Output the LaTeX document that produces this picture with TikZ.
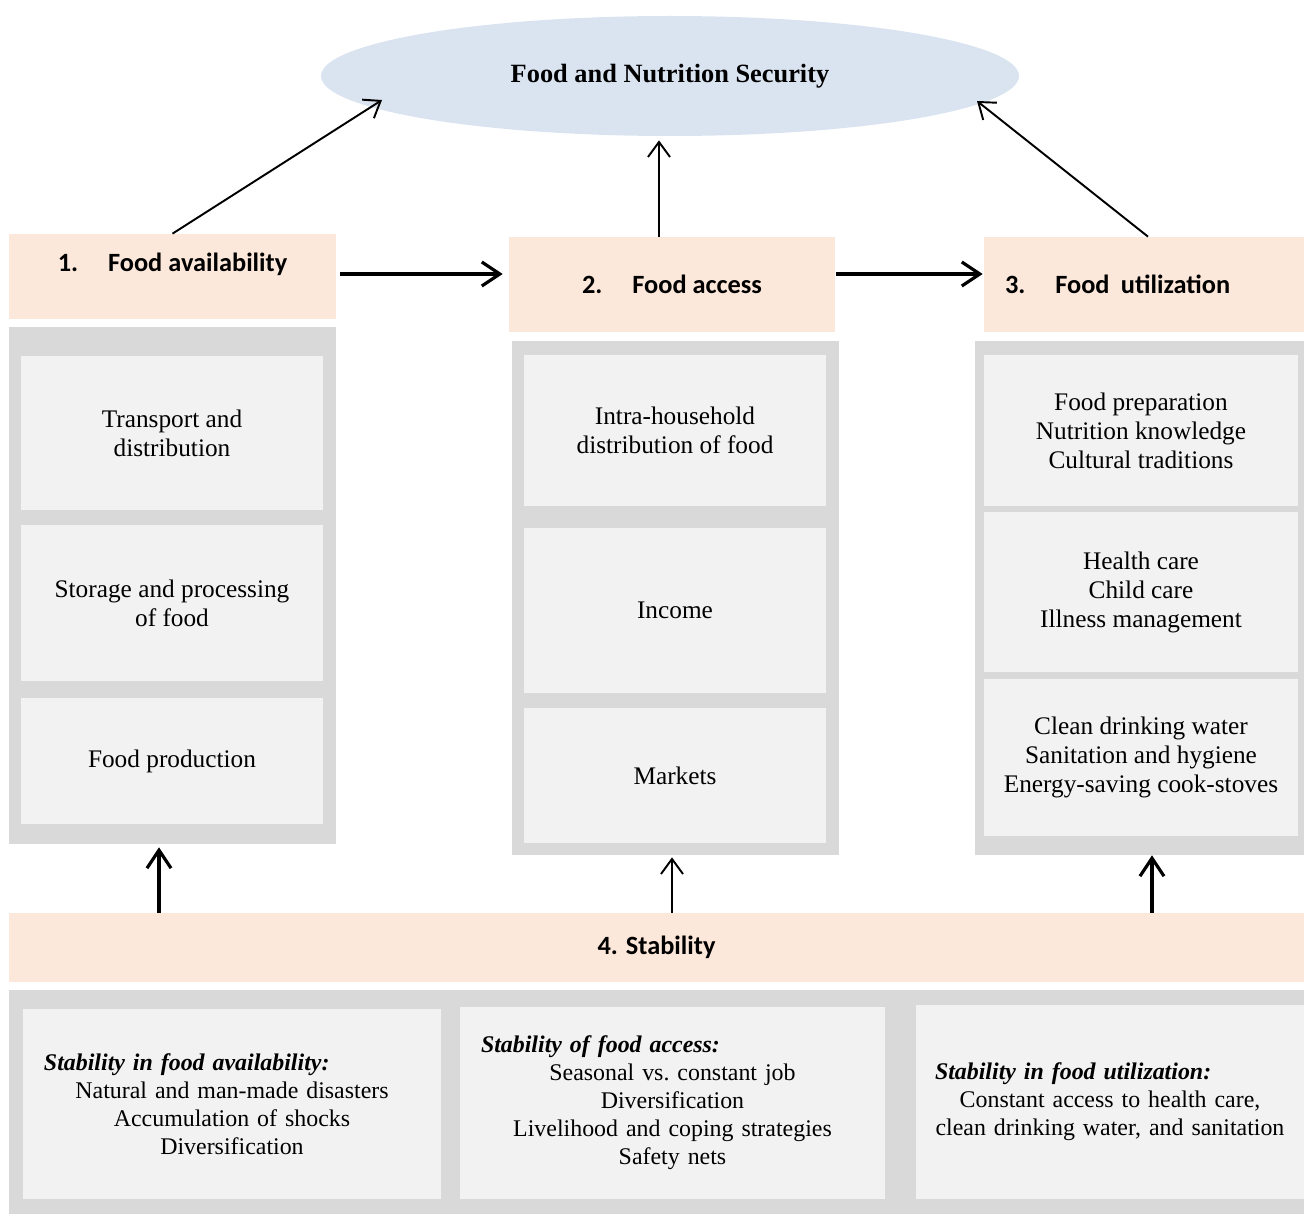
\documentclass[tikz,border=0pt]{standalone}
\usepackage{fontspec}
\setmainfont{Liberation Serif}
\newfontfamily\headfont{Carlito}
\usetikzlibrary{arrows.meta,shapes.geometric}

\definecolor{peach}{HTML}{FCE8DA}
\definecolor{panelgray}{HTML}{D9D9D9}
\definecolor{cellgray}{HTML}{F2F2F2}
\definecolor{fnsblue}{HTML}{DAE3F0}

\tikzset{
    panel/.style={fill=panelgray, inner sep=0pt},
    cell/.style={fill=cellgray, inner sep=0pt, align=center, font=\fontsize{14.4}{16.5}\selectfont},
    stabcell/.style={fill=cellgray, inner sep=0pt, align=center, font=\fontsize{13.6}{15.9}\selectfont},
    head/.style={fill=peach, inner sep=0pt, font=\headfont\bfseries\fontsize{15}{18}\selectfont},
    arrthin/.style={line width=1.1pt, -{Straight Barb[length=3mm,width=4.4mm]}},
    arrthick/.style={line width=1.8pt, -{Straight Barb[length=3.6mm,width=4.8mm]}}
}

\begin{document}
\begin{tikzpicture}
            \useasboundingbox (0,0) rectangle (26.08,-24.28);

            \node[ellipse, fill=fnsblue, inner sep=0pt, minimum width=13.96cm, minimum height=2.40cm,
                  font=\bfseries\fontsize{15}{18}\selectfont] (fns) at (13.40,-1.52) {Food and Nutrition Security};

            \node[head, minimum width=6.54cm, minimum height=1.70cm,
                  label={[head, fill=none, yshift=0.25cm]center:1.\hspace{17pt}Food availability}] (h1) at (3.45,-5.53) {};
            \node[head, minimum width=6.52cm, minimum height=1.90cm] (h2) at (13.44,-5.69) {2.\hspace{17pt}Food access};
            \node[head, minimum width=6.40cm, minimum height=1.90cm, text width=5.56cm, align=left] (h3) at (22.88,-5.69) {3.\hspace{17pt}Food\ \hspace{1.5pt}utilization};

            \node[panel, minimum width=6.54cm, minimum height=10.34cm] (p1) at (3.45,-11.71) {};
            \node[panel, minimum width=6.54cm, minimum height=10.28cm] (p2) at (13.51,-11.96) {};
            \node[panel, minimum width=6.58cm, minimum height=10.28cm] (p3) at (22.79,-11.96) {};

            \node[cell, minimum width=6.04cm, minimum height=3.08cm] (a1) at (3.44,-8.66) {Transport and\\distribution};
            \node[cell, minimum width=6.04cm, minimum height=3.12cm] (a2) at (3.44,-12.06) {Storage and processing\\of food};
            \node[cell, minimum width=6.04cm, minimum height=2.52cm] (a3) at (3.44,-15.22) {Food production};

            \node[cell, minimum width=6.04cm, minimum height=3.02cm] (b1) at (13.50,-8.61) {Intra-household\\distribution of food};
            \node[cell, minimum width=6.04cm, minimum height=3.30cm] (b2) at (13.50,-12.21) {Income};
            \node[cell, minimum width=6.04cm, minimum height=2.70cm] (b3) at (13.50,-15.51) {Markets};

            \node[cell, minimum width=6.28cm, minimum height=3.02cm] (c1) at (22.82,-8.61) {Food preparation\\Nutrition knowledge\\Cultural traditions};
            \node[cell, minimum width=6.28cm, minimum height=3.20cm] (c2) at (22.82,-11.84) {Health care\\Child care\\Illness management};
            \node[cell, minimum width=6.28cm, minimum height=3.14cm] (c3) at (22.82,-15.15) {Clean drinking water\\Sanitation and hygiene\\Energy-saving cook-stoves};

            \node[head, minimum width=25.90cm, minimum height=1.38cm] (stab) at (13.13,-18.95) {4. Stability};
            \node[panel, minimum width=25.90cm, minimum height=4.48cm] (pstab) at (13.13,-22.04) {};

            \node[stabcell, minimum width=8.36cm, minimum height=3.80cm, text width=7.52cm] (s1) at (4.64,-22.08)
                {\makebox[\linewidth][l]{\textbf{\textit{Stability in food availability:}}}\\Natural and man-made disasters\\Accumulation of shocks\\Diversification};
            \node[stabcell, minimum width=8.50cm, minimum height=3.84cm, text width=7.66cm] (s2) at (13.45,-22.06)
                {\makebox[\linewidth][l]{\textbf{\textit{Stability of food access:}}}\\Seasonal vs.\ constant job\\Diversification\\Livelihood and coping strategies\\Safety nets};
            \node[stabcell, minimum width=7.76cm, minimum height=3.88cm, text width=7.00cm] (s3) at (22.20,-22.04)
                {\makebox[\linewidth][l]{\textbf{\textit{Stability in food utilization:}}}\\Constant access to health care,\\clean drinking water, and sanitation};

            \coordinate (tipL) at ([shift={(-5.76,-0.48)}]fns.center);
            \coordinate (tipR) at ([shift={(6.14,-0.50)}]fns.center);
            \coordinate (up2) at ([xshift=-0.26cm]h2.north);
            \coordinate (fromR) at ([xshift=0.08cm]h3.north);
            \coordinate (u1) at ([xshift=-0.27cm]p1.south);
            \coordinate (u2) at ([xshift=-0.07cm]p2.south);
            \coordinate (u3) at ([xshift=0.25cm]p3.south);

            \draw[arrthin] (h1.north) -- (tipL);
            \draw[arrthin, shorten >=0.08cm] (up2) -- (up2 |- fns.south);
            \draw[arrthin] (fromR) -- (tipR);

            \draw[arrthick, shorten <=0.08cm, shorten >=0.12cm] ([yshift=0.05cm]h1.east) -- ([yshift=0.05cm]h1.east -| h2.west);
            \draw[arrthick, shorten <=0.02cm, shorten >=0.02cm] ([yshift=0.21cm]h2.east) -- ([yshift=0.21cm]h2.east -| h3.west);

            \draw[arrthick, shorten >=0.06cm] (u1 |- stab.north) -- (u1);
            \draw[arrthin, shorten >=0.04cm] (u2 |- stab.north) -- (u2);
            \draw[arrthick] (u3 |- stab.north) -- (u3);
        \end{tikzpicture}
\end{document}
